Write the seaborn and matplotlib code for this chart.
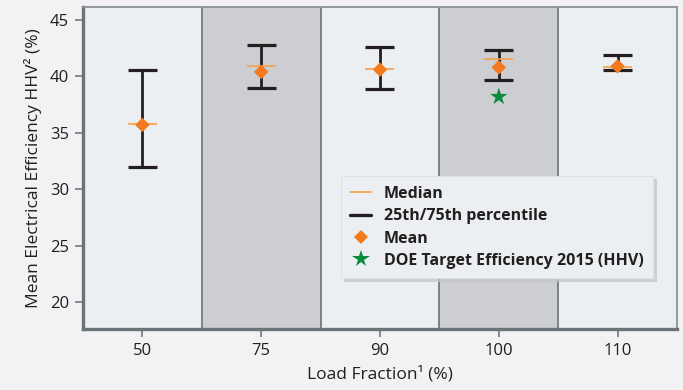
import matplotlib
matplotlib.use("Agg")
import matplotlib.pyplot as plt
from matplotlib.lines import Line2D
import seaborn as sns
import pandas as pd
import numpy as np

categories = ["50", "75", "90", "100", "110"]
p75 = [40.6, 42.8, 42.6, 42.3, 41.9]
p25 = [32.0, 39.0, 38.9, 39.7, 40.6]
median = [35.8, 40.9, 40.7, 41.5, 40.8]
mean = [35.7, 40.4, 40.6, 40.8, 40.9]
doe_category = ["100"]
doe_target = [38.2]

sns.set_theme(style="white")
plt.rcParams["font.family"] = ["Open Sans", "DejaVu Sans"]

fig = plt.figure(figsize=(6.83, 3.9), dpi=100, facecolor="#f2f1f4")
ax = fig.add_axes([0.1215, 0.156, 0.8697, 0.826])
ax.set_facecolor("#eceff1")

df = pd.DataFrame({"cat": categories, "p25": p25, "p75": p75, "median": median, "mean": mean})
df["x"] = np.arange(len(df))

# shaded bands & dividers
for i in range(len(categories)):
    if i % 2 == 1:
        ax.axvspan(i - 0.5, i + 0.5, color="#cdced1", zorder=0, lw=0)
    if i > 0:
        ax.axvline(i - 0.5, color="#737b80", lw=1.3, zorder=1)

cap = 0.122
ax.vlines(df["x"], df["p25"], df["p75"], color="#231f20", lw=2.0, zorder=3)
ax.hlines(df["p75"], df["x"] - cap, df["x"] + cap, color="#231f20", lw=2.3, zorder=3)
ax.hlines(df["p25"], df["x"] - cap, df["x"] + cap, color="#231f20", lw=2.3, zorder=3)
ax.hlines(df["median"], df["x"] - cap, df["x"] + cap, color="#f5a04a", lw=1.2, zorder=4)

sns.scatterplot(data=df, x="x", y="mean", marker="D", s=55, color="#f47a20",
                edgecolor="none", ax=ax, zorder=5, legend=False)
doe = pd.DataFrame({"x": [categories.index(c) for c in doe_category], "y": doe_target})
sns.scatterplot(data=doe, x="x", y="y", marker="*", s=170, color="#0a8a3c",
                edgecolor="none", ax=ax, zorder=5, legend=False)

ax.set_xlim(-0.5, len(categories) - 0.5)
ax.set_ylim(17.6, 46.15)
ax.set_xticks(df["x"])
ax.set_xticklabels(categories)
ax.set_yticks([20, 25, 30, 35, 40, 45])
ax.tick_params(axis="both", direction="out", length=6, width=1.2, color="#737b80",
               labelsize=12, labelcolor="#231f20", pad=4, bottom=True, left=True)
ax.set_xlabel("Load Fraction\u00b9 (%)", fontsize=12.5, color="#231f20", labelpad=5)
ax.set_ylabel("Mean Electrical Efficiency HHV\u00b2 (%)", fontsize=12.5, color="#231f20", labelpad=6)

for s in ["left", "bottom"]:
    ax.spines[s].set_color("#6b7378")
    ax.spines[s].set_linewidth(2.4)
for s in ["top", "right"]:
    ax.spines[s].set_color("#8a9297")
    ax.spines[s].set_linewidth(1.3)

handles = [
    Line2D([], [], color="#f5a04a", lw=1.2),
    Line2D([], [], color="#231f20", lw=2.4),
    Line2D([], [], marker="D", color="#f47a20", lw=0, markersize=7, markeredgewidth=0),
    Line2D([], [], marker="*", color="#0a8a3c", lw=0, markersize=13, markeredgewidth=0),
]
labels = ["Median", "25th/75th percentile", "Mean", "DOE Target Efficiency 2015 (HHV)"]
leg = ax.legend(handles, labels, loc="upper left", bbox_to_anchor=(0.434, 0.475),
                frameon=True, fancybox=False, shadow={"color": "#c4c6c9", "alpha": 0.7},
                facecolor="#eceff1", edgecolor="#dfe2e4", framealpha=1,
                prop={"weight": "bold", "size": 11.5}, handlelength=1.3,
                handletextpad=0.8, labelspacing=0.4, borderpad=0.6, borderaxespad=0)
leg.get_frame().set_linewidth(0.8)
for t in leg.get_texts():
    t.set_color("#231f20")

fig.savefig("out.png", dpi=100, facecolor=fig.get_facecolor())
